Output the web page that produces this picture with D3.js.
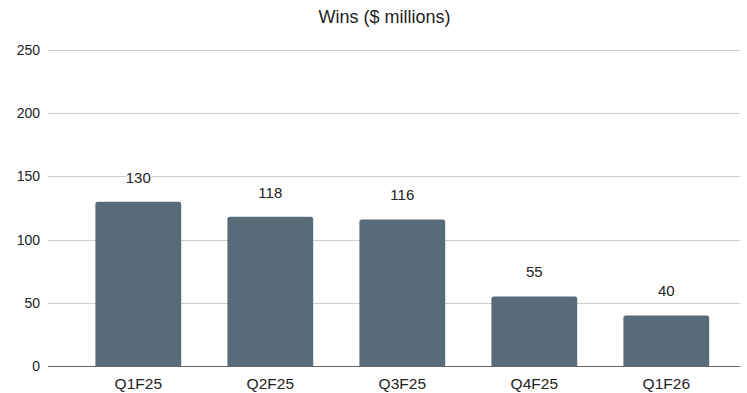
<!DOCTYPE html>
<html>
<head>
<meta charset="utf-8">
<script src="https://cdn.jsdelivr.net/npm/d3@7"></script>
<style>
  html, body { margin: 0; padding: 0; background: #fff; }
  svg { display: block; font-family: "Liberation Sans", Arial, sans-serif; }
</style>
</head>
<body>
<svg id="chart" width="747" height="393"></svg>
<script>
// Quarterly wins, in $ millions
const quarters = ["Q1F25", "Q2F25", "Q3F25", "Q4F25", "Q1F26"];
const wins = [130, 118, 116, 55, 40];
const yTicks = [0, 50, 100, 150, 200, 250];
const title = "Wins ($ millions)";

const svg = d3.select("#chart");
const W = 747, H = 393;

const gridLeft = 48, gridRight = 740;
const x = d3.scaleBand()
  .domain(quarters)
  .range([72.3, 732.3])
  .paddingInner(0.35)
  .paddingOuter(0.175);

const y = d3.scaleLinear().domain([0, 250]).range([366, 50]);

// Title
svg.append("text")
  .attr("x", 384.5)
  .attr("y", 23)
  .attr("text-anchor", "middle")
  .attr("font-size", 18)
  .attr("fill", "#222")
  .text(title);

// Y axis labels
const yAxis = d3.axisLeft(y).tickValues(yTicks).tickSize(0).tickPadding(8);
const yg = svg.append("g").attr("transform", `translate(${gridLeft},0)`).call(yAxis);
yg.select(".domain").remove();
yg.selectAll("text").attr("font-size", 14).attr("fill", "#222")
  .attr("font-family", "Liberation Sans, Arial, sans-serif");

// Horizontal gridlines
svg.append("g").selectAll("line")
  .data(yTicks.filter(d => d !== 0))
  .join("line")
  .attr("x1", gridLeft).attr("x2", gridRight)
  .attr("y1", d => Math.round(y(d)) + 0.5).attr("y2", d => Math.round(y(d)) + 0.5)
  .attr("stroke", "#cccccc").attr("stroke-width", 1);

// Bars with slightly rounded tops
svg.append("g").selectAll("path")
  .data(quarters.map((q, i) => ({ q, v: wins[i] })))
  .join("path")
  .attr("fill", "#586b78")
  .attr("d", d => {
    const x0 = x(d.q), x1 = x0 + x.bandwidth();
    const top = y(d.v), bot = y(0), r = 2.5;
    return `M${x0},${bot}V${top + r}Q${x0},${top} ${x0 + r},${top}` +
           `H${x1 - r}Q${x1},${top} ${x1},${top + r}V${bot}Z`;
  });

// Baseline
svg.append("line")
  .attr("x1", gridLeft).attr("x2", gridRight)
  .attr("y1", y(0) + 0.5).attr("y2", y(0) + 0.5)
  .attr("stroke", "#666").attr("stroke-width", 1.2);

// Value labels with white halo
svg.append("g").selectAll("text")
  .data(quarters.map((q, i) => ({ q, v: wins[i] })))
  .join("text")
  .attr("x", d => x(d.q) + x.bandwidth() / 2)
  .attr("y", d => y(d.v) - 19)
  .attr("text-anchor", "middle")
  .attr("font-size", 15)
  .attr("fill", "#222")
  .attr("stroke", "#fff")
  .attr("stroke-width", 3)
  .attr("stroke-linejoin", "round")
  .attr("paint-order", "stroke")
  .text(d => d.v);

// Category labels
const xAxis = d3.axisBottom(x).tickSize(0).tickPadding(12);
const xg = svg.append("g").attr("transform", `translate(0,${y(0)})`).call(xAxis);
xg.select(".domain").remove();
xg.selectAll("text").attr("font-size", 15.5).attr("fill", "#222")
  .attr("font-family", "Liberation Sans, Arial, sans-serif");
</script>
</body>
</html>
